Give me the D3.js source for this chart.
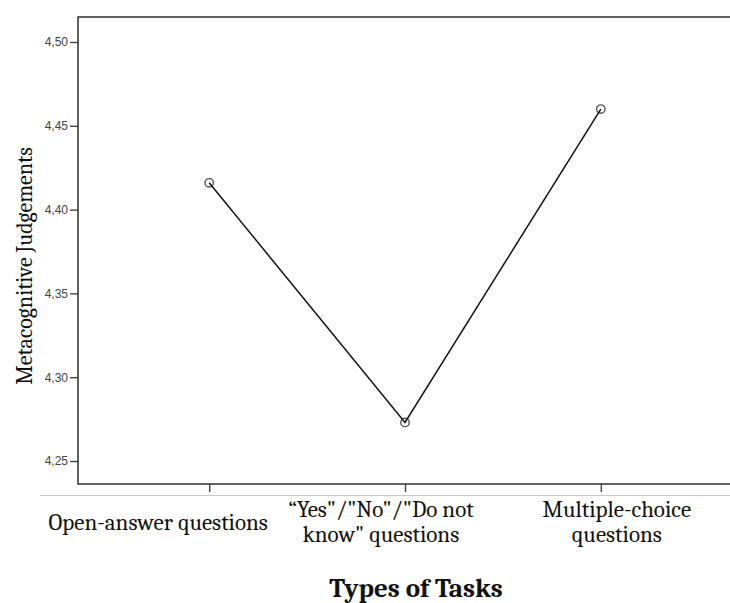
<!DOCTYPE html>
<html>
<head>
<meta charset="utf-8">
<script src="https://cdn.jsdelivr.net/npm/d3@7"></script>
<style>
  body { margin: 0; background: #fff; }
</style>
</head>
<body>
<script>
"use strict"

// chart data
var categories = ["Open-answer questions", "\u201cYes\u201d/\u201dNo\u201d/\u201dDo not know\u201d questions", "Multiple-choice questions"];
var categoryLines = [
    ["Open-answer questions"],
    ["\u201cYes\"/\"No\"/\"Do not", "know\" questions"],
    ["Multiple-choice", "questions"]
];
var meanValues = [4.416, 4.273, 4.460];
var yTicks = [4.25, 4.30, 4.35, 4.40, 4.45, 4.50];

var width = 730, height = 603;
var frame = {left: 78, right: 732, top: 17, bottom: 484};

var svg = d3.select("body").append("svg")
    .attr("width", width)
    .attr("height", height);

var x = d3.scalePoint()
    .domain(categories)
    .range([frame.left, frame.right])
    .padding(0.67);

var y = d3.scaleLinear()
    .domain([4.25, 4.50])
    .range([461, 42]);

var commaFmt = d3.formatLocale({decimal: ",", thousands: ".", grouping: [3], currency: ["", ""]}).format(".2f");

// light rule under the frame
svg.append("line")
    .attr("x1", 40).attr("x2", width)
    .attr("y1", 495.5).attr("y2", 495.5)
    .attr("stroke", "#c8c8c8")
    .attr("stroke-width", 1);

// frame
svg.append("rect")
    .attr("x", frame.left)
    .attr("y", frame.top)
    .attr("width", frame.right - frame.left)
    .attr("height", frame.bottom - frame.top)
    .attr("fill", "none")
    .attr("stroke", "#3a3a3a")
    .attr("stroke-width", 1.6);

// y axis
var yAxis = svg.append("g")
    .attr("transform", "translate(" + frame.left + ",0)")
    .call(d3.axisLeft(y).tickValues(yTicks).tickSize(8).tickPadding(2).tickFormat(commaFmt));
yAxis.select(".domain").remove();
yAxis.selectAll(".tick line").attr("stroke", "#3a3a3a").attr("stroke-width", 1.3);
yAxis.selectAll(".tick text")
    .attr("font-family", "Arial, 'Liberation Sans', sans-serif")
    .attr("font-size", "12px")
    .attr("fill", "#444");

// x axis ticks
var xAxis = svg.append("g")
    .attr("transform", "translate(0," + frame.bottom + ")")
    .call(d3.axisBottom(x).tickSize(8).tickFormat(""));
xAxis.select(".domain").remove();
xAxis.selectAll(".tick line").attr("stroke", "#3a3a3a").attr("stroke-width", 1.3);

// category labels
var labelOffsets = [-51, -24, 16];
categories.forEach(function(c, i) {
    var lines = categoryLines[i];
    var t = svg.append("text")
        .attr("text-anchor", "middle")
        .attr("font-family", "Cambria, 'Liberation Serif', 'DejaVu Serif', serif")
        .attr("font-size", "23px")
        .attr("fill", "#111");
    var y0 = lines.length == 1 ? 530 : 517;
    lines.forEach(function(l, k) {
        t.append("tspan")
            .attr("x", x(c) + labelOffsets[i])
            .attr("y", y0 + k * 25)
            .text(l);
    });
});

// axis titles
svg.append("text")
    .attr("x", 416)
    .attr("y", 597)
    .attr("text-anchor", "middle")
    .attr("font-family", "Cambria, 'Liberation Serif', 'DejaVu Serif', serif")
    .attr("font-weight", "bold")
    .attr("font-size", "27px")
    .attr("fill", "#111")
    .text("Types of Tasks");

svg.append("text")
    .attr("transform", "translate(32,266) rotate(-90)")
    .attr("text-anchor", "middle")
    .attr("font-family", "Cambria, 'Liberation Serif', 'DejaVu Serif', serif")
    .attr("font-size", "22px")
    .attr("fill", "#111")
    .text("Metacognitive Judgements");

// line and markers
var pts = categories.map(function(c, i) { return [x(c), y(meanValues[i])]; });

svg.append("g").selectAll("circle")
    .data(pts)
  .enter().append("circle")
    .attr("cx", function(d) { return d[0]; })
    .attr("cy", function(d) { return d[1]; })
    .attr("r", 4.2)
    .attr("fill", "none")
    .attr("stroke", "#555")
    .attr("stroke-width", 1.4);

svg.append("path")
    .datum(pts)
    .attr("d", d3.line())
    .attr("fill", "none")
    .attr("stroke", "#111")
    .attr("stroke-width", 1.5);
</script>
</body>
</html>
